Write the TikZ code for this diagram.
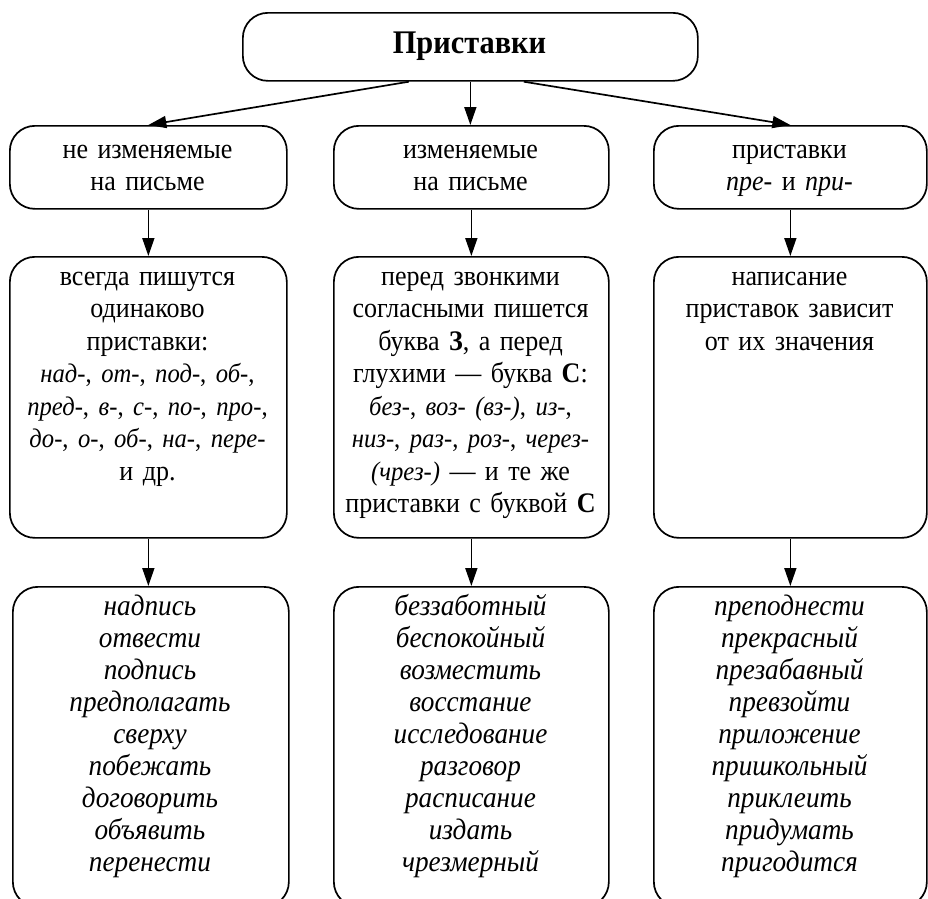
\documentclass[tikz,border=0pt]{standalone}
\usepackage{fontspec}
\setmainfont{Liberation Serif}[FakeStretch=0.92]
\usetikzlibrary{arrows.meta}
\newcommand{\smi}[1]{{\fontsize{26.8}{32.5}\selectfont #1}}
\begin{document}
\begin{tikzpicture}[x=1pt,y=-1pt,
  box/.style={draw, line width=1.7pt, rounded corners=25pt, anchor=north west, inner sep=0pt},
  txt/.style={anchor=base, align=center, text width=275pt, inner sep=0pt, font=\fontsize{28.3}{32.5}\selectfont},
  lst/.style={anchor=base, align=center, text width=275pt, inner sep=0pt, font=\fontsize{29.6}{32.1}\selectfont\itshape},
  ttl/.style={anchor=base, inner sep=0pt, font=\fontsize{33}{38}\selectfont\bfseries},
  arr/.style={line width=1.7pt, -{Triangle[length=18pt,width=12pt]}}]
\useasboundingbox (0,0) rectangle (928,898);
\clip (0,0) rectangle (928,898);
% boxes
\node[box, minimum width=455pt, minimum height=68pt] (top) at (242,12) {};
\node[box, minimum width=277pt, minimum height=83pt] (l1) at (9,125) {};
\node[box, minimum width=275pt, minimum height=83pt] (m1) at (333,125) {};
\node[box, minimum width=273pt, minimum height=83pt] (r1) at (653,125) {};
\node[box, minimum width=277pt, minimum height=281pt] (l2) at (9,256) {};
\node[box, minimum width=275pt, minimum height=281pt] (m2) at (333,256) {};
\node[box, minimum width=273pt, minimum height=281pt] (r2) at (653,256) {};
\node[box, minimum width=276pt, minimum height=320pt] (l3) at (12,586) {};
\node[box, minimum width=275pt, minimum height=320pt] (m3) at (333,586) {};
\node[box, minimum width=273pt, minimum height=320pt] (r3) at (653,586) {};
% texts
\node[ttl] (tt) at (469.5,53) {Приставки};
\node[txt] (tl1) at (147.5,158) {не изменяемые\\на письме};
\node[txt] (tm1) at (470.5,158) {изменяемые\\на письме};
\node[txt] (tr1) at (789.5,158) {приставки\\\textit{пре-} и \textit{при-}};
\node[txt] (tl2) at (147.5,285) {всегда пишутся\\одинаково\\приставки:\\\smi{\textit{над-}, \textit{от-}, \textit{под-}, \textit{об-},}\\\smi{\textit{пред-}, \textit{в-}, \textit{с-}, \textit{по-}, \textit{про-},}\\\smi{\textit{до-}, \textit{о-}, \textit{об-}, \textit{на-}, \textit{пере-}}\\и др.};
\node[txt] (tm2) at (470.5,285) {перед звонкими\\согласными пишется\\буква \textbf{З}, а перед\\глухими — буква \textbf{С}:\\\smi{\textit{без-}, \textit{воз- (вз-)}, \textit{из-},}\\\smi{\textit{низ-}, \textit{раз-}, \textit{роз-}, \textit{через-}}\\\smi{\textit{(чрез-)}} — и те же\\приставки с буквой \textbf{С}};
\node[txt] (tr2) at (789.5,285) {написание\\приставок зависит\\от их значения};
\node[lst] (tl3) at (150,615) {надпись\\отвести\\подпись\\предполагать\\сверху\\побежать\\договорить\\объявить\\перенести};
\node[lst] (tm3) at (470.5,615) {беззаботный\\беспокойный\\возместить\\восстание\\исследование\\разговор\\расписание\\издать\\чрезмерный};
\node[lst] (tr3) at (789.5,615) {преподнести\\прекрасный\\презабавный\\превзойти\\приложение\\пришкольный\\приклеить\\придумать\\пригодится};
% arrows
\draw[arr] ([xshift=-61.5pt]top.south) -- (l1.north);
\draw[arr] (top.south) -- (top.south |- m1.north);
\draw[arr] ([xshift=53.5pt]top.south) -- (r1.north);
\draw[arr] (l1.south) -- (l2.north);
\draw[arr] (m1.south) -- (m2.north);
\draw[arr] (r1.south) -- (r2.north);
\draw[arr] (l2.south) -- (l2.south |- l3.north);
\draw[arr] (m2.south) -- (m3.north);
\draw[arr] (r2.south) -- (r3.north);
\end{tikzpicture}
\end{document}
